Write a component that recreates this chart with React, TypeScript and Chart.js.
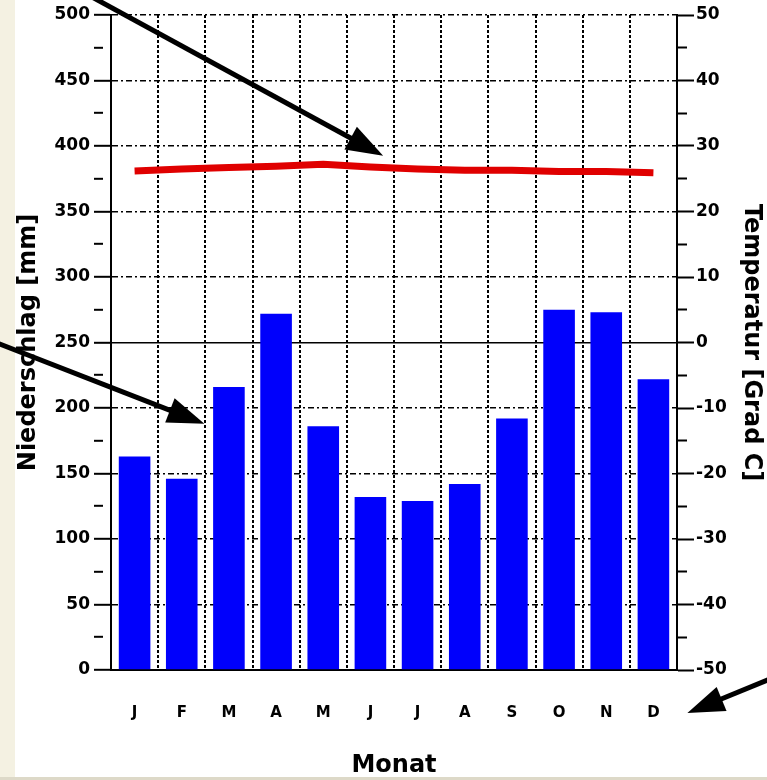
import React, { useEffect, useRef } from "react";
import { Chart, registerables } from "chart.js";

Chart.register(...registerables);

const months = ["J", "F", "M", "A", "M", "J", "J", "A", "S", "O", "N", "D"];
const precipitation = [163, 146, 216, 272, 186, 132, 129, 142, 192, 275, 273, 222];
const temperature = [26.2, 26.5, 26.7, 26.9, 27.2, 26.8, 26.5, 26.3, 26.3, 26.1, 26.1, 25.9];
const precipLabels = [0, 50, 100, 150, 200, 250, 300, 350, 400, 450, 500];
const tempLabels = [-50, -40, -30, -20, -10, 0, 10, 20, 30, 40, 50];

const W = 767;
const H = 780;
const FONT = "'DejaVu Sans', 'Liberation Sans', sans-serif";

const pagePlugin = {
  id: "page",
  beforeDraw(chart: any) {
    const { ctx } = chart;
    ctx.save();
    ctx.fillStyle = "#ffffff";
    ctx.fillRect(0, 0, chart.width, chart.height);
    ctx.fillStyle = "#f4f1e2";
    ctx.fillRect(0, 0, 15, chart.height);
    ctx.restore();
  },
  afterDraw(chart: any) {
    const { ctx, scales, chartArea } = chart;
    ctx.save();
    ctx.fillStyle = "#ddd9c8";
    ctx.fillRect(0, chart.height - 3, chart.width, 3);
    const arrows = [
      { from: [92, -3], to: [scales.x.getPixelForValue(5.27), scales.y1.getPixelForValue(28.5)] },
      { from: [-3, 343], to: [scales.x.getPixelForValue(1.48), scales.y.getPixelForValue(188)] },
      { from: [770, 679], to: [scales.x.getPixelForValue(11.72), chartArea.bottom + 43] },
    ];
    for (const a of arrows) {
      const [x0, y0] = a.from;
      const [x1, y1] = a.to;
      const dx = x1 - x0;
      const dy = y1 - y0;
      const len = Math.hypot(dx, dy);
      const ux = dx / len;
      const uy = dy / len;
      const hl = 37;
      const hw = 13;
      const bx = x1 - ux * hl;
      const by = y1 - uy * hl;
      ctx.strokeStyle = "#000";
      ctx.lineWidth = 5;
      ctx.beginPath();
      ctx.moveTo(x0, y0);
      ctx.lineTo(bx + ux * 3, by + uy * 3);
      ctx.stroke();
      ctx.fillStyle = "#000";
      ctx.beginPath();
      ctx.moveTo(x1, y1);
      ctx.lineTo(bx - uy * hw, by + ux * hw);
      ctx.lineTo(bx + uy * hw, by - ux * hw);
      ctx.closePath();
      ctx.fill();
    }
    ctx.restore();
  },
};

export default function App() {
  const ref = useRef<HTMLCanvasElement | null>(null);

  useEffect(() => {
    if (!ref.current) return;
    const dashDot = [6, 3, 2, 3];
    const chart = new Chart(ref.current, {
      type: "bar",
      data: {
        labels: months,
        datasets: [
          {
            type: "line",
            label: "Temperatur",
            data: temperature,
            yAxisID: "y1",
            borderColor: "#e00000",
            backgroundColor: "#e00000",
            borderWidth: 7,
            pointRadius: 0,
            tension: 0,
            order: 1,
          } as any,
          {
            type: "bar",
            label: "Niederschlag",
            data: precipitation,
            yAxisID: "y",
            backgroundColor: "#0000fc",
            borderWidth: 0,
            barPercentage: 0.67,
            categoryPercentage: 1,
            order: 2,
          },
        ],
      },
      options: {
        animation: false,
        responsive: false,
        devicePixelRatio: 1,
        layout: { padding: { top: 15, left: 0, right: 0, bottom: 0 } },
        plugins: { legend: { display: false }, tooltip: { enabled: false } },
        scales: {
          x: {
            type: "category",
            position: "bottom",
            offset: true,
            z: 1,
            grid: {
              offset: true,
              color: "#000",
              lineWidth: 2,
              drawTicks: false,
            },
            border: { display: true, color: "#000", width: 2, dash: [3, 2] },
            ticks: {
              autoSkip: false,
              maxRotation: 0,
              color: "#000",
              padding: 34,
              font: { family: FONT, size: 15, weight: "bold" },
            },
            title: {
              display: true,
              text: "Monat",
              color: "#000",
              padding: { top: 0, bottom: 0 },
              font: { family: FONT, size: 24, weight: "bold" },
            },
            afterFit(scale: any) {
              scale.height = 110;
            },
          },
          y: {
            type: "linear",
            position: "left",
            min: 0,
            max: 500,
            z: 1,
            ticks: {
              stepSize: 25,
              color: "#000",
              padding: 4,
              font: { family: FONT, size: 17, weight: "bold" },
              callback: (v: any) => (precipLabels.includes(Number(v)) ? String(v) : ""),
            },
            grid: {
              color: (c: any) => (precipLabels.includes(c.tick?.value) ? "#000" : "rgba(0,0,0,0)"),
              lineWidth: 1.6,
              tickColor: "#000",
              tickWidth: 2,
              tickLength: 17,
              tickBorderDash: (c: any) => (precipLabels.includes(c.tick?.value) ? [] : [9, 100]),
            },
            border: {
              display: true,
              color: "#000",
              width: 2,
              dash: (c: any) => (c.tick?.value === 250 ? [] : dashDot),
            },
            title: {
              display: true,
              text: "Niederschlag [mm]",
              color: "#000",
              padding: { top: 14, bottom: 0 },
              font: { family: FONT, size: 24, weight: "bold" },
            },
            afterFit(scale: any) {
              scale.width = 111;
            },
          },
          y1: {
            type: "linear",
            position: "right",
            min: -50,
            max: 50,
            ticks: {
              stepSize: 5,
              color: "#000",
              padding: 2,
              font: { family: FONT, size: 17, weight: "bold" },
              callback: (v: any) => (tempLabels.includes(Number(v)) ? String(v) : ""),
            },
            grid: {
              drawOnChartArea: false,
              color: "#000",
              tickColor: "#000",
              tickWidth: 2,
              tickLength: 17,
              tickBorderDash: (c: any) => (tempLabels.includes(c.tick?.value) ? [] : [9, 100]),
            },
            border: { display: true, color: "#000", width: 2 },
            title: {
              display: true,
              text: "Temperatur [Grad C]",
              color: "#000",
              padding: { top: 1, bottom: 0 },
              font: { family: FONT, size: 24, weight: "bold" },
            },
            afterFit(scale: any) {
              scale.width = 90;
            },
          },
        },
      } as any,
      plugins: [pagePlugin],
    });
    return () => chart.destroy();
  }, []);

  return (
    <div style={{ position: "absolute", left: 0, top: 0, width: W, height: H, background: "#fff" }}>
      <canvas ref={ref} width={W} height={H} style={{ display: "block", width: W, height: H }} />
    </div>
  );
}
